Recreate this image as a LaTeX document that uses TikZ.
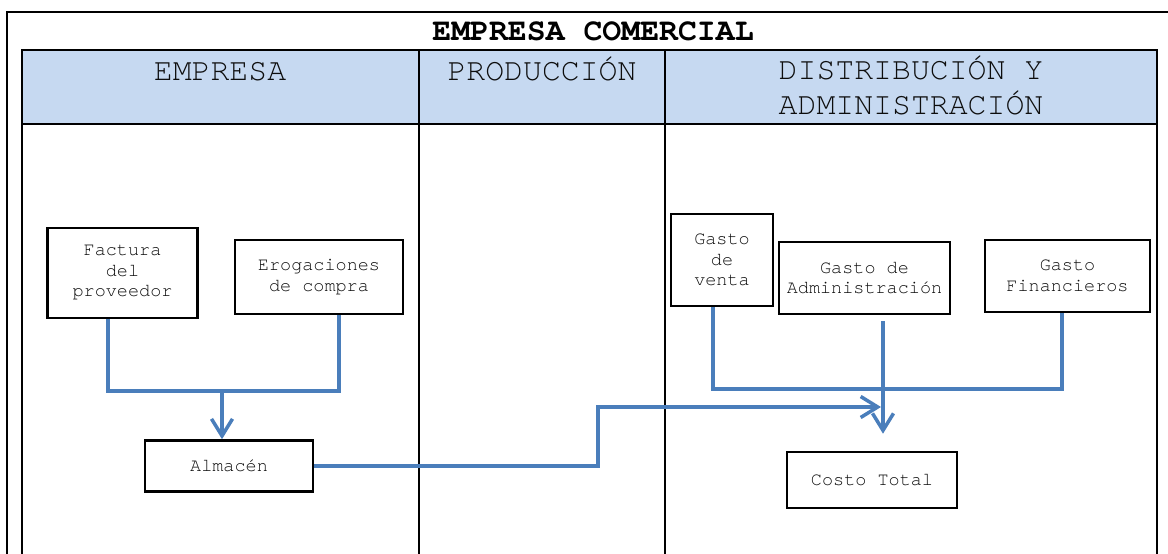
\documentclass[tikz,border=0pt]{standalone}
\usepackage{fontspec}
\setmonofont{texgyrecursor}[Extension=.otf, UprightFont=*-regular, BoldFont=*-bold]
\usetikzlibrary{arrows.meta}
\definecolor{hdrfill}{HTML}{C6D9F1}
\definecolor{connc}{HTML}{4A7EBB}
\definecolor{txtc}{HTML}{0D0D0D}
\begin{document}
\begin{tikzpicture}[x=1pt,y=-1pt,
  frameline/.style={line width=2.3pt},
  boxn/.style={draw, line width=2.6pt, fill=white, inner sep=0pt, align=center,
    text=txtc, font=\fontsize{18.5}{20.5}\selectfont\ttfamily},
  hdrtext/.style={align=center, inner sep=0pt, anchor=base, text=txtc,
    font=\fontsize{31.5}{34.5}\selectfont\ttfamily},
  connline/.style={draw=connc, line width=3.5pt},
  tipped/.style={-{Straight Barb[length=17pt,width=21pt]}}
]
\useasboundingbox (0,0) rectangle (1168,554);
\fill[white] (0,0) rectangle (1168,554);

% outer frame
\draw[frameline] (7,560) -- (7,12) -- (1172,12);
% header band
\filldraw[fill=hdrfill, frameline] (22,50) rectangle (1157,124);
% table body
\draw[frameline] (22,124) -- (22,560);
\draw[frameline] (1157,124) -- (1157,560);
\draw[frameline] (419,50) -- (419,560);
\draw[frameline] (665,50) -- (665,560);

% title and headers
\node[anchor=base, inner sep=0pt, font=\fontsize{31.5}{34}\selectfont\ttfamily\bfseries] (title) at (593,40) {EMPRESA COMERCIAL};
\node[hdrtext] (h1) at (220,80) {EMPRESA};
\node[hdrtext] (h2) at (542,80) {PRODUCCIÓN};
\node[hdrtext, anchor=north] (h3) at (911,56) {DISTRIBUCIÓN Y\\ADMINISTRACIÓN};

% boxes
\node[boxn, minimum width=150pt, minimum height=90pt] (fact) at (122.5,273) {Factura\\del\\proveedor};
\node[boxn, minimum width=168pt, minimum height=74pt] (erog) at (319,277) {Erogaciones\\de compra};
\node[boxn, minimum width=168pt, minimum height=51pt] (alm) at (229,466) {Almacén};
\node[boxn, minimum width=102pt, minimum height=92pt] (gv) at (722,260) {Gasto\\de\\venta};
\node[boxn, minimum width=171pt, minimum height=72pt] (ga) at (864.5,278) {Gasto de\\Administración};
\node[boxn, minimum width=165pt, minimum height=72pt] (gf) at (1067.5,276) {Gasto\\Financieros};
\node[boxn, minimum width=170pt, minimum height=56pt] (ct) at (872,480) {Costo Total};

% junction coordinates
\coordinate (j1) at (222,391);
\coordinate (j2) at (883,389);
\coordinate (j3) at (598,407);
\coordinate (j4) at (881,407);
\coordinate (a0) at ([yshift=-6pt]ga.south);

% connectors
\draw[connline] ([xshift=-14.5pt]fact.south) |- (j1) -| ([xshift=20pt]erog.south);
\draw[connline, tipped] (j1) -- (alm.north -| j1);
\draw[connline] ([xshift=-9pt]gv.south) |- (j2) -| ([xshift=-5.5pt]gf.south);
\draw[connline, tipped, shorten >=17pt] (a0 -| j2) -- (ct.north -| j2);
\draw[connline, tipped] (alm.east) -| (j3) -- (j4);
\end{tikzpicture}
\end{document}
